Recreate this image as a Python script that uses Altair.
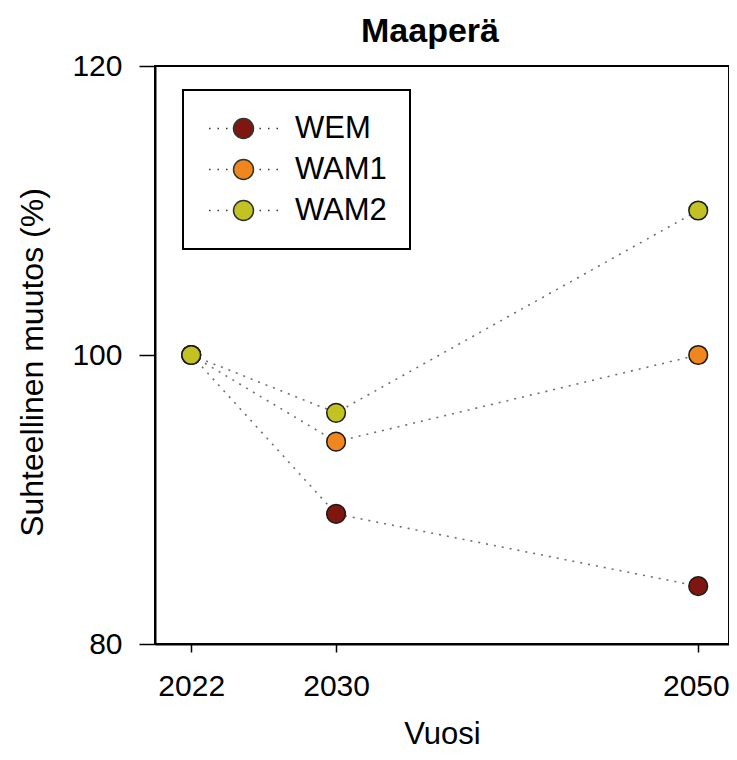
import altair as alt
import pandas as pd

years = [2022, 2030, 2050]
series = ["WEM", "WAM1", "WAM2"]
wem = [100, 89, 84]
wam1 = [100, 94, 100]
wam2 = [100, 96, 110]
colors = ["#7f1710", "#f0871e", "#c3c223"]

rows = []
for name, vals in zip(series, [wem, wam1, wam2]):
    for y, v in zip(years, vals):
        rows.append({"Vuosi": y, "value": v, "series": name})
df = pd.DataFrame(rows)

FONT = "Liberation Sans"

legend_symbol = (
    "M -1 0 A 1 1 0 1 1 1 0 A 1 1 0 1 1 -1 0 Z "
    "M -3.45 0 L -3.3 0 M -2.6 0 L -2.45 0 M -1.75 0 L -1.6 0 "
    "M 1.6 0 L 1.75 0 M 2.45 0 L 2.6 0 M 3.3 0 L 3.45 0"
)

x_enc = alt.X(
    "Vuosi:Q",
    scale=alt.Scale(domain=[2020, 2051.7], nice=False, zero=False),
    axis=alt.Axis(
        values=years, format="d", title="Vuosi", grid=False,
        tickSize=8, tickWidth=1.5, tickColor="black",
        domainColor="black", domainWidth=2,
        labelFont=FONT, labelFontSize=30, labelColor="black", labelPadding=19,
        labelFlush=33, labelFlushOffset=31,
        titleFont=FONT, titleFontSize=31, titleFontWeight="normal",
        titleColor="black", titlePadding=18,
    ),
)
y_enc = alt.Y(
    "value:Q",
    scale=alt.Scale(domain=[80, 120], nice=False, zero=False),
    axis=alt.Axis(
        values=[80, 100, 120], title="Suhteellinen muutos (%)", grid=False,
        tickSize=16, tickWidth=1.5, tickColor="black",
        domainColor="black", domainWidth=2,
        labelFont=FONT, labelFontSize=30, labelColor="black", labelPadding=17,
        titleFont=FONT, titleFontSize=32, titleFontWeight="normal",
        titleColor="black", titlePadding=22, titleY=296,
    ),
)

lines = alt.Chart(df).mark_line(
    color="#707070", strokeWidth=1.6, strokeDash=[2, 6]
).encode(x=x_enc, y=y_enc, detail="series:N")

points = alt.Chart(df).mark_point(
    filled=True, size=350, stroke="#1a1a1a", strokeWidth=1.5, opacity=1
).encode(
    x=x_enc,
    y=y_enc,
    color=alt.Color(
        "series:N",
        scale=alt.Scale(domain=series, range=colors),
        legend=alt.Legend(
            title=None, orient="none", legendX=28, legendY=24,
            symbolType=legend_symbol, symbolSize=400,
            symbolStrokeColor="#333333", symbolStrokeWidth=1.5,
            symbolOffset=22, labelOffset=36,
            labelFont=FONT, labelFontSize=31, labelColor="black",
            rowPadding=9, padding=23, strokeColor="black",
        ),
    ),
)

chart = (
    alt.layer(lines, points)
    .properties(
        width=574,
        height=578,
        background="white",
        title=alt.TitleParams(
            "Maaperä", font=FONT, fontSize=34, fontWeight="bold",
            color="black", anchor="middle", dx=-12, offset=2,
        ),
        padding={"left": 147, "top": 58, "right": 0, "bottom": 108},
        autosize=alt.AutoSizeParams(type="none"),
    )
    .configure_view(stroke="black", strokeWidth=2)
    .configure_legend(strokeWidth=2)
)

chart.save("out.html", embed_options={"renderer": "svg", "actions": False})
